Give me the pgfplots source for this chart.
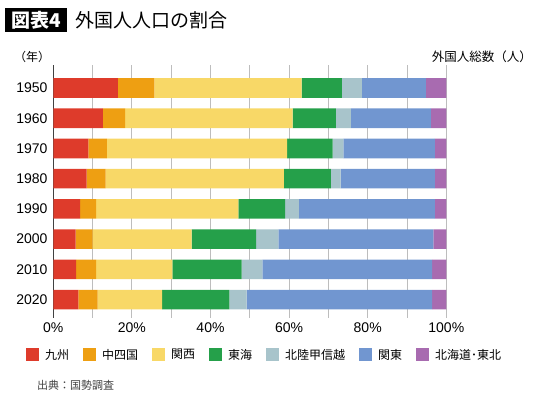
\documentclass[border=0pt]{standalone}
\usepackage{pgfplots}
\pgfplotsset{compat=1.18}
\usepackage{fontspec}
\setmainfont{Liberation Sans}
\newfontfamily\cjk{Noto Sans CJK JP}
\definecolor{cRed}{HTML}{DE3B2B}
\definecolor{cOrange}{HTML}{EE9F12}
\definecolor{cYellow}{HTML}{F8D867}
\definecolor{cGreen}{HTML}{25A04A}
\definecolor{cLB}{HTML}{A8C4CB}
\definecolor{cBlue}{HTML}{7196D0}
\definecolor{cPurple}{HTML}{A86BB0}
\definecolor{cGrid}{HTML}{BDBDBD}
\tikzset{totals/.style={anchor=west, inner sep=0pt, xshift=7.7pt, font=\fontsize{14}{14}\selectfont}}
\begin{document}
\begin{tikzpicture}[x=1pt,y=1pt]
\path[use as bounding box] (0,0) rectangle (540,-400);
% title
\node[fill=black, text=white, font=\cjk\bfseries\fontsize{19}{19}\selectfont, inner xsep=6pt, inner ysep=0pt, minimum height=24pt, anchor=west] at (5,-20) {図表4};
\node[font=\cjk\fontsize{19}{19}\selectfont, inner sep=0pt, anchor=west] at (75,-20) {外国人人口の割合};
\node[font=\cjk\fontsize{12}{12}\selectfont, inner sep=0pt] at (32,-57) {（年）};
\node[font=\cjk\fontsize{12.5}{12.5}\selectfont, inner sep=0pt, anchor=east] at (532,-57) {外国人総数（人）};
\node[font=\cjk\fontsize{11}{11}\selectfont, text=black!75, inner sep=0pt, anchor=west] at (37,-385) {出典：国勢調査};
\begin{axis}[
  at={(53.3pt,-65pt)}, anchor=north west,
  scale only axis, width=393pt, height=253pt,
  xbar stacked, bar width=0.65,
  y dir=reverse,
  ymin=-0.76, ymax=7.61, xmin=0, xmax=100,
  axis line style={draw=none},
  major tick length=0pt, minor tick length=0pt,
  xtick={0,20,40,60,80,100},
  minor xtick={10,30,50,70,90},
  xmajorgrids, xminorgrids,
  major grid style={cGrid, line width=0.9pt},
  minor grid style={cGrid, line width=0.9pt},
  xticklabel={\pgfmathprintnumber{\tick}\%},
  ytick={0,1,2,3,4,5,6,7},
  yticklabels={1950,1960,1970,1980,1990,2000,2010,2020},
  tick label style={font=\fontsize{14}{14}\selectfont},
  /pgf/number format/assume math mode=true,
  xticklabel style={inner sep=0pt, yshift=-5pt},
  yticklabel style={inner sep=0pt, xshift=-5.6pt},
  legend columns=-1,
  legend style={at={(-0.0771,-0.146)}, anchor=west, draw=none, fill=none,
    font=\cjk\fontsize{12}{12}\selectfont,
    nodes={inner sep=0pt},
    /tikz/every odd column/.append style={column sep=6pt},
    /tikz/every even column/.append style={column sep=14pt}},
  legend image code/.code={\fill[#1] (0pt,-6.5pt) rectangle (13pt,6.5pt);},
  every axis plot/.append style={draw=none},
]
\addplot[fill=cRed] coordinates {(16.4,0) (12.6,1) (8.9,2) (8.5,3) (6.8,4) (5.7,5) (5.8,6) (6.4,7)};
\addplot[fill=cOrange] coordinates {(9.3,0) (5.7,1) (4.7,2) (4.8,3) (4.1,4) (4.3,5) (5.1,6) (4.9,7)};
\addplot[fill=cYellow] coordinates {(37.5,0) (42.6,1) (45.9,2) (45.4,3) (36.2,4) (25.2,5) (19.4,6) (16.4,7)};
\addplot[fill=cGreen] coordinates {(10.2,0) (11.0,1) (11.6,2) (11.9,3) (11.9,4) (16.4,5) (17.6,6) (17.1,7)};
\addplot[fill=cLB] coordinates {(5.1,0) (3.8,1) (2.7,2) (2.5,3) (3.5,4) (5.7,5) (5.3,6) (4.4,7)};
\addplot[fill=cBlue] coordinates {(16.3,0) (20.4,1) (23.3,2) (24.0,3) (34.6,4) (39.4,5) (43.2,6) (47.2,7)};
\addplot[fill=cPurple] coordinates {(5.2,0) (3.9,1) (2.9,2) (2.9,3) (2.9,4) (3.3,5) (3.6,6) (3.6,7)};
\legend{九州,中四国,関西,東海,北陸甲信越,関東,北海道･東北}
\draw[black, line width=1.3pt] (rel axis cs:0,0) -- (rel axis cs:0,1);
\node[totals] at (axis cs:100,0) {528,923};
\node[totals] at (axis cs:100,1) {578,519};
\node[totals] at (axis cs:100,2) {604,253};
\node[totals] at (axis cs:100,3) {668,675};
\node[totals] at (axis cs:100,4) {886,397};
\node[totals] at (axis cs:100,5) {1,310,545};
\node[totals] at (axis cs:100,6) {1,648,037};
\node[totals] at (axis cs:100,7) {2,402,460};
\end{axis}
\end{tikzpicture}
\end{document}
